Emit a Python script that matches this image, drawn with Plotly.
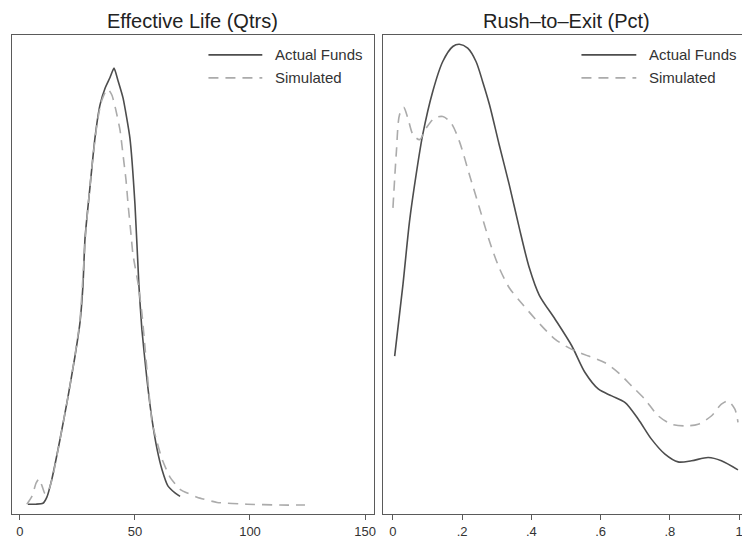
import plotly.graph_objects as go

# ---- Data: Effective Life (Qtrs) ----
life_actual_x = [3.5, 7.0, 10.0, 11.7, 13.9, 17.4, 20.9, 23.9, 26.1, 27.4, 28.3, 30.4, 32.6, 34.8,
                 37.0, 39.1, 40.9, 42.6, 44.8, 47.8, 50.0, 51.7, 53.0, 55.2, 57.4, 59.6, 61.7,
                 64.3, 67.4, 69.6]
life_actual_y = [0.0001, 0.0001, 0.0002, 0.0009, 0.0030, 0.0075, 0.0124, 0.0170, 0.0209, 0.0252,
                 0.0306, 0.0363, 0.0420, 0.0458, 0.0477, 0.0489, 0.0500, 0.0486, 0.0466, 0.0420,
                 0.0344, 0.0252, 0.0201, 0.0144, 0.0098, 0.0064, 0.0041, 0.0022, 0.0014, 0.0010]
life_sim_x = [3.0, 5.2, 7.0, 8.3, 9.6, 10.9, 12.6, 14.3, 17.4, 20.9, 23.9, 26.1, 28.7, 31.3, 33.5,
              35.2, 37.0, 38.3, 40.0, 41.7, 43.5, 44.8, 46.1, 47.0, 48.3, 49.1, 51.3, 53.0, 54.3,
              57.4, 59.6, 61.7, 65.2, 69.6, 77.0, 85.7, 98.7, 113.0, 123.9]
life_sim_y = [0.0001, 0.0010, 0.0025, 0.0030, 0.0022, 0.0013, 0.0018, 0.0033, 0.0075, 0.0124,
              0.0171, 0.0212, 0.0315, 0.0388, 0.0436, 0.0460, 0.0472, 0.0476, 0.0469, 0.0452,
              0.0429, 0.0401, 0.0372, 0.0344, 0.0309, 0.0287, 0.0254, 0.0220, 0.0182, 0.0095,
              0.0072, 0.0053, 0.0032, 0.0018, 0.0009, 0.0003, 0.0001, 0.0000, 0.0000]

# ---- Data: Rush-to-Exit (Pct) ----
rush_actual_x = [0.005, 0.029, 0.048, 0.067, 0.086, 0.115, 0.144, 0.173, 0.192, 0.216, 0.240,
                 0.259, 0.279, 0.307, 0.336, 0.365, 0.394, 0.423, 0.469, 0.517, 0.555, 0.594,
                 0.632, 0.671, 0.709, 0.747, 0.786, 0.824, 0.863, 0.911, 0.949, 0.997]
rush_actual_y = [0.833, 1.211, 1.544, 1.789, 2.000, 2.228, 2.386, 2.465, 2.477, 2.456, 2.386,
                 2.281, 2.158, 1.947, 1.737, 1.509, 1.298, 1.153, 1.026, 0.886, 0.746, 0.658,
                 0.623, 0.588, 0.500, 0.395, 0.316, 0.275, 0.281, 0.298, 0.281, 0.233]
rush_sim_x = [0.000, 0.010, 0.019, 0.031, 0.043, 0.058, 0.077, 0.096, 0.120, 0.144, 0.168, 0.192,
              0.221, 0.250, 0.279, 0.307, 0.336, 0.375, 0.423, 0.469, 0.517, 0.565, 0.613, 0.651,
              0.690, 0.728, 0.767, 0.805, 0.844, 0.882, 0.920, 0.949, 0.968, 0.988, 0.997]
rush_sim_y = [1.614, 1.912, 2.105, 2.144, 2.088, 2.000, 1.974, 2.035, 2.088, 2.096, 2.062, 1.965,
              1.789, 1.614, 1.438, 1.298, 1.193, 1.105, 1.005, 0.921, 0.868, 0.833, 0.798, 0.746,
              0.675, 0.605, 0.517, 0.474, 0.465, 0.474, 0.517, 0.579, 0.596, 0.553, 0.483]

titles = ["Effective Life (Qtrs)", "Rush\u2013to\u2013Exit (Pct)"]
legend_labels = ["Actual Funds", "Simulated"]
life_ticks = [0, 50, 100, 150]
life_ticklabels = ["0", "50", "100", "150"]
rush_ticks = [0, 0.2, 0.4, 0.6, 0.8, 1.0]
rush_ticklabels = ["0", ".2", ".4", ".6", ".8", "1"]

# Page body margin is removed below; the right panel runs past the window edge, as in the reference.
OFF = 0
RIGHT = 750
W, H = RIGHT - OFF, 539 - OFF


def px(x):
    return (x - OFF) / W


def py(y):
    return 1 - (y - OFF) / H


ACT = "#4d4d4d"
SIM = "#ababab"
FRAME = "#5a5a5a"
FONT = "Liberation Sans, Arial, sans-serif"

fig = go.Figure()
solid = dict(color=ACT, width=1.6)
dashed = dict(color=SIM, width=1.6, dash="10px,7px")

fig.add_trace(go.Scatter(x=life_actual_x, y=life_actual_y, mode="lines", line=dict(**solid, shape="spline", smoothing=0.5),
                         xaxis="x", yaxis="y", showlegend=False))
fig.add_trace(go.Scatter(x=life_sim_x, y=life_sim_y, mode="lines", line=dict(**dashed, shape="spline", smoothing=0.5),
                         xaxis="x", yaxis="y", showlegend=False))
fig.add_trace(go.Scatter(x=rush_actual_x, y=rush_actual_y, mode="lines", line=dict(**solid, shape="spline", smoothing=0.8),
                         xaxis="x2", yaxis="y2", showlegend=False))
fig.add_trace(go.Scatter(x=rush_sim_x, y=rush_sim_y, mode="lines", line=dict(**dashed, shape="spline", smoothing=0.8),
                         xaxis="x2", yaxis="y2", showlegend=False))

ydom = [py(515), py(35)]
common_x = dict(showgrid=False, zeroline=False, showline=True, linecolor=FRAME, linewidth=1, mirror=True,
                ticks="outside", ticklen=5, tickcolor=FRAME, tickwidth=1, ticklabeloverflow="allow",
                tickfont=dict(family=FONT, size=13, color="#333333"))
common_y = dict(showgrid=False, zeroline=False, showline=True, linecolor=FRAME, linewidth=1, mirror=True,
                ticks="", showticklabels=False)

fig.update_layout(
    width=W, height=H,
    margin=dict(l=0, r=0, t=0, b=0),
    paper_bgcolor="white", plot_bgcolor="white",
    showlegend=False,
    xaxis=dict(domain=[px(12), px(375)], range=[-3.47, 153.9], tickvals=life_ticks, ticktext=life_ticklabels,
               anchor="y", **common_x),
    yaxis=dict(domain=ydom, range=[-0.00103, 0.0538], anchor="x", **common_y),
    xaxis2=dict(domain=[px(384), 1.0], range=[-0.0288, (RIGHT - 394) / 347], tickvals=rush_ticks,
                ticktext=rush_ticklabels, anchor="y2", **common_x),
    yaxis2=dict(domain=ydom, range=[0, 2.526], anchor="x2", **common_y),
)

# Titles
for cx, t in zip([193, 568], titles):
    fig.add_annotation(x=px(cx), y=py(21), xref="paper", yref="paper", text=t, showarrow=False,
                       xanchor="center", yanchor="middle", font=dict(family=FONT, size=20, color="#222222"))

# Legend keys (one per panel)
for x0, x1, tx in [(209, 263, 274), (583, 638, 649)]:
    for yy, lab, st in [(55, legend_labels[0], solid), (78, legend_labels[1], dashed)]:
        fig.add_shape(type="line", xref="paper", yref="paper", x0=px(x0), x1=px(x1), y0=py(yy), y1=py(yy),
                      line=st)
        fig.add_annotation(x=px(tx), y=py(yy), xref="paper", yref="paper", text=lab, showarrow=False,
                           xanchor="left", yanchor="middle", font=dict(family=FONT, size=15, color="#333333"))

fig.write_html("out.html", config={"displayModeBar": False},
               post_script="document.body.style.margin='0px';document.body.style.overflow='hidden';")
